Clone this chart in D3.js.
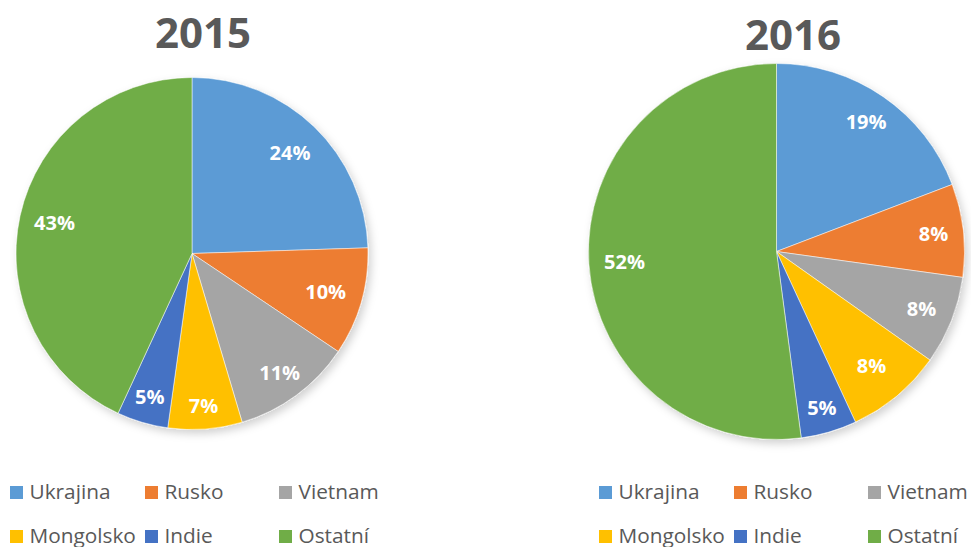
<!DOCTYPE html>
<html>
<head>
<meta charset="utf-8">
<script src="https://cdn.jsdelivr.net/npm/d3@7"></script>
<style>
  html, body { margin: 0; padding: 0; background: #fff; }
  svg { display: block; }
</style>
</head>
<body>
<svg id="chart" width="971" height="547"></svg>
<script>
const categories = ["Ukrajina", "Rusko", "Vietnam", "Mongolsko", "Indie", "Ostatní"];
const colors = ["#5B9BD5", "#ED7D31", "#A5A5A5", "#FFC000", "#4472C4", "#70AD47"];
const years = ["2015", "2016"];
const values2015 = [24.49, 9.91, 11.0, 6.8, 4.7, 43.1];
const values2016 = [19.2, 8.0, 7.6, 8.3, 4.8, 52.1];

const svg = d3.select("#chart");
const defs = svg.append("defs");
const f = defs.append("filter").attr("id", "shadow")
  .attr("x", "-10%").attr("y", "-10%").attr("width", "125%").attr("height", "125%");
f.append("feDropShadow").attr("dx", 3).attr("dy", 4).attr("stdDeviation", 4)
  .attr("flood-color", "#000").attr("flood-opacity", 0.18);

// layout: pie geometry and per-slice label distance (fraction of radius)
const layouts = [
  { values: values2015, cx: 192, cy: 253.5, r: 176, titleX: 203, titleY: 48, legendX: 0,
    labelR: [0.80, 0.79, 0.84, 0.87, 0.85, 0.80] },
  { values: values2016, cx: 776.5, cy: 251.5, r: 188, titleX: 793, titleY: 50, legendX: 589,
    labelR: [0.84, 0.84, 0.83, 0.79, 0.865, 0.81] }
];

const pie = d3.pie().sort(null).value(d => d.v);
const fmt = d3.format(".0%");

layouts.forEach((L, idx) => {
  const data = categories.map((c, i) => ({ c, v: L.values[i], col: colors[i] }));
  const total = d3.sum(data, d => d.v);
  const arcs = pie(data);
  const arc = d3.arc().innerRadius(0).outerRadius(L.r);

  svg.append("text")
    .attr("x", L.titleX).attr("y", L.titleY)
    .attr("text-anchor", "middle")
    .attr("font-family", "'Open Sans', sans-serif")
    .attr("font-weight", "bold")
    .attr("font-size", 42)
    .attr("fill", "#595959")
    .text(years[idx]);

  const g = svg.append("g").attr("transform", `translate(${L.cx},${L.cy})`);
  g.append("g").attr("filter", "url(#shadow)")
    .selectAll("path").data(arcs).join("path")
    .attr("d", arc)
    .attr("fill", d => d.data.col)
    .attr("stroke", "#fff").attr("stroke-width", 0.5);

  g.selectAll("text.lbl").data(arcs).join("text")
    .attr("class", "lbl")
    .attr("transform", (d, i) => {
      const lr = L.r * L.labelR[i];
      const c = d3.arc().innerRadius(lr).outerRadius(lr).centroid(d);
      return `translate(${c})`;
    })
    .attr("text-anchor", "middle")
    .attr("dy", "0.36em")
    .attr("font-family", "'Open Sans', sans-serif")
    .attr("font-weight", "bold")
    .attr("font-size", 20)
    .attr("fill", "#fff")
    .text(d => fmt(d.data.v / total));

  // legend
  const colX = [10, 145, 279];
  const rowY = [486, 530];
  const lg = svg.append("g").attr("transform", `translate(${L.legendX},0)`);
  const items = lg.selectAll("g.item").data(data).join("g")
    .attr("class", "item")
    .attr("transform", (d, i) => `translate(${colX[i % 3]},${rowY[Math.floor(i / 3)]})`);
  items.append("rect").attr("x", 0).attr("y", 0).attr("width", 13).attr("height", 13)
    .attr("fill", d => d.col);
  items.append("text").attr("x", 19.5).attr("y", 12.5)
    .attr("font-family", "'Open Sans', sans-serif")
    .attr("font-size", 20.8)
    .attr("fill", "#595959")
    .text(d => d.c);
});
</script>
</body>
</html>
